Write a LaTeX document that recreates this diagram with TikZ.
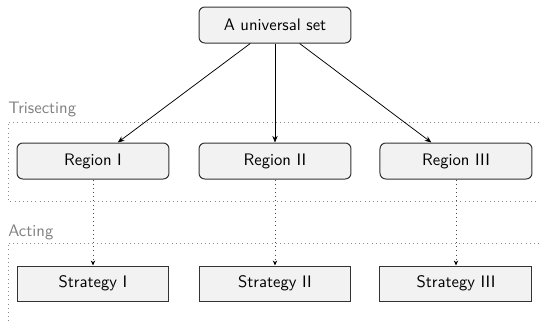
\documentclass[tikz,border=0pt]{standalone}
\usetikzlibrary{arrows.meta}
\begin{document}
\begin{tikzpicture}[x=0.6pt,y=-0.6pt,font=\sffamily,
  region/.style={draw=black!80,fill=black!5,rounded corners=3.5pt,line width=0.6pt,minimum width=91.2pt,minimum height=21.6pt,inner sep=0pt},
  strategy/.style={draw=black!80,fill=black!5,line width=0.6pt,minimum width=91.2pt,minimum height=21pt,inner sep=0pt},
  layer/.style={draw=black!45,dotted,line width=0.5pt},
  lbl/.style={text=black!50,anchor=base west,inner sep=0pt},
  solidarrow/.style={-{Stealth[length=4pt,width=3.2pt]},line width=0.45pt},
  dotarrow/.style={dotted,draw=black!70,-{Stealth[length=3pt,width=2.6pt,color=black]},line width=0.5pt}]
\useasboundingbox (0,0) rectangle (539,323);
% layers
\draw[layer] (539,122) -- (8,122) -- (8,201) -- (539,201);
\draw[layer] (539,243) -- (8,243) -- (8,323);
\node[lbl] (tri) at (8,113) {Trisecting};
\node[lbl] (act) at (8,236) {Acting};
% nodes
\node[region] (U) at (275,25) {A universal set};
\node[region] (R1) at (93,161) {Region I};
\node[region] (R2) at (275,161) {Region II};
\node[region] (R3) at (456,161) {Region III};
\node[strategy] (S1) at (93,283.5) {Strategy I};
\node[strategy] (S2) at (275,283.5) {Strategy II};
\node[strategy] (S3) at (456,283.5) {Strategy III};
% connectors
\draw[solidarrow] (U) -- (R1);
\draw[solidarrow] (U) -- (R2);
\draw[solidarrow] (U) -- (R3);
\draw[dotarrow] (R1) -- (S1);
\draw[dotarrow] (R2) -- (S2);
\draw[dotarrow] (R3) -- (S3);
\end{tikzpicture}
\end{document}
